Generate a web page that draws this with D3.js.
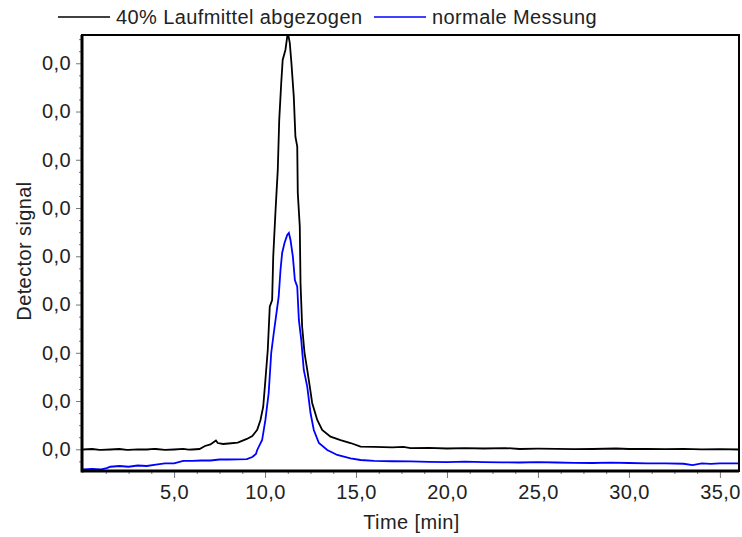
<!DOCTYPE html>
<html>
<head>
<meta charset="utf-8">
<script src="https://cdn.jsdelivr.net/npm/d3@7"></script>
<style>
  body { margin: 0; background: #fff; }
  svg { display: block; font-family: "Liberation Sans", Arial, sans-serif; }
</style>
</head>
<body>
<div id="chart"></div>
<script>
// Chromatogram: detector signal vs. time, two runs

var seriesNames = ["40% Laufmittel abgezogen", "normale Messung"];
var seriesColors = ["#000000", "#0000ff"];

// time [min] / signal for the "40% Laufmittel abgezogen" run
var blackTime = [0.0, 0.5, 0.9, 1.0, 1.5, 2.0, 2.4, 2.5, 3.0, 3.5, 3.9, 4.0, 4.5, 5.0, 5.5, 5.8, 6.0, 6.4, 6.7, 7.0, 7.3, 7.4, 7.7, 8.0, 8.5, 9.0, 9.3,
  9.57, 9.75, 9.90, 10.02, 10.15, 10.26, 10.39, 10.45, 10.57, 10.70, 10.78, 10.89, 10.97, 11.12, 11.22, 11.25,
  11.36, 11.45, 11.58, 11.67, 11.77, 11.80, 11.91, 11.95, 12.04, 12.17, 12.32, 12.46, 12.59, 12.87, 13.14, 13.60,
  14.15, 14.70, 15.25, 16.0, 17.0, 17.6, 18.0, 19.0, 20.0, 21.0, 22.0, 23.2, 24.0, 25.0, 26.0, 27.0, 28.0, 29.3,
  30.0, 31.0, 32.0, 33.0, 34.0, 35.0, 36.05];
var blackSignal = [-0.00002, 0.00003, -0.00006, -0.00007, -0.00002, 0.00003, -0.00006, -0.00007, 0.0, -0.00002, 0.00004, 0.00003, -0.00007, -0.00002, 0.00005, -0.00004, -0.00002, 0.00003, 0.00034, 0.0005, 0.00091, 0.00065, 0.00055, 0.0006, 0.0007, 0.00107, 0.00138,
  0.00201, 0.00304, 0.00441, 0.00718, 0.01029, 0.01478, 0.01547, 0.01996, 0.02449, 0.02895, 0.03413, 0.03796, 0.04034, 0.04138, 0.04276, 0.0432,
  0.04211, 0.04003, 0.03654, 0.03239, 0.03136, 0.02656, 0.02307, 0.01723, 0.0127, 0.00998, 0.00822, 0.00649, 0.0048, 0.00304, 0.00201, 0.00131,
  0.00096, 0.00065, 0.00027, 0.00024, 0.00019, 0.00025, 0.00013, 0.00014, 0.00008, 0.00012, 0.00008, 0.00013, 0.00003, 0.00006, 0.00005, 0.00001, 0.00003, 0.00008,
  0.00003, 0.00005, 0.00001, 0.00004, 0.0, 0.00002, -0.00002];

// time [min] / signal for the "normale Messung" run
var blueTime = [0.0, 0.5, 1.0, 1.3, 1.5, 2.0, 2.5, 3.0, 3.5, 4.0, 4.5, 5.0, 5.5, 6.0, 6.5, 7.0, 7.5, 8.0, 8.5, 9.0, 9.3, 9.5,
  9.57, 9.84, 10.02, 10.20, 10.34, 10.48, 10.63, 10.75, 10.85, 10.94, 11.07, 11.22, 11.31, 11.40, 11.53, 11.64, 11.77,
  11.86, 11.99, 12.13, 12.32, 12.50, 12.68, 12.96, 13.42, 13.97, 14.70, 15.25, 16.0, 17.0, 18.0, 19.0, 20.0, 21.0, 22.0,
  23.0, 24.0, 25.0, 26.0, 27.0, 28.0, 29.0, 30.0, 31.0, 32.0, 33.0, 33.5, 34.0, 34.5, 35.0, 35.5, 36.05];
var blueSignal = [-0.00209, -0.00204, -0.00209, -0.00195, -0.00181, -0.00173, -0.00181, -0.00168, -0.00173, -0.00158, -0.00147, -0.00147, -0.00121, -0.00121, -0.00116, -0.00116, -0.00106, -0.00106, -0.00104, -0.00101, -0.0008, -0.00049,
  -0.00007, 0.00096, 0.00304, 0.00583, 0.00998, 0.01205, 0.01413, 0.01581, 0.01858, 0.02034, 0.02138, 0.02221, 0.02242, 0.02169, 0.01996, 0.01754, 0.01685,
  0.0134, 0.01133, 0.00822, 0.00649, 0.00376, 0.002, 0.00065, -0.00007, -0.00059, -0.00093, -0.00111, -0.00121, -0.00124, -0.00126, -0.0013, -0.00132, -0.00128, -0.00132,
  -0.00135, -0.00137, -0.00134, -0.00137, -0.0014, -0.00142, -0.00138, -0.00142, -0.00145, -0.00147, -0.0015, -0.00163, -0.00147, -0.00152, -0.00145, -0.00147, -0.00147];

var yTicks = [0, 0.005, 0.01, 0.015, 0.02, 0.025, 0.03, 0.035, 0.04];
var xTicks = [5, 10, 15, 20, 25, 30, 35];

var width = 742, height = 537;
var margin = {top: 35, right: 3, bottom: 66, left: 82};

var svg = d3.select("#chart").append("svg")
  .attr("width", width).attr("height", height);

var x = d3.scaleLinear().domain([-0.06, 36.05]).range([margin.left, width - margin.right]);
var y = d3.scaleLinear().domain([-0.00225, 0.04293]).range([height - margin.bottom, margin.top]);

var de = d3.formatLocale({decimal: ",", thousands: ".", grouping: [3], currency: ["", " €"]});
var fmt = de.format(".1f");

var font = "20px 'Liberation Sans', Arial, sans-serif";
var spacing = "0.4px";

// minor ticks first, then majors on top
var xMinor = d3.range(1.25, 36.05, 1.25).filter(function(d) { return d % 5 !== 0; });
var yMinor = d3.range(-0.00125, 0.043, 0.00125).filter(function(d) { return Math.abs(d / 0.005 - Math.round(d / 0.005)) > 0.01; });

svg.append("g")
  .attr("transform", "translate(0," + (height - margin.bottom) + ")")
  .call(d3.axisBottom(x).tickValues(xMinor).tickSize(3).tickFormat(""))
  .call(function(g) { g.select(".domain").remove(); g.selectAll("line").attr("stroke", "#777"); });

svg.append("g")
  .attr("transform", "translate(" + margin.left + ",0)")
  .call(d3.axisLeft(y).tickValues(yMinor).tickSize(3).tickFormat(""))
  .call(function(g) { g.select(".domain").remove(); g.selectAll("line").attr("stroke", "#777"); });

svg.append("g")
  .attr("transform", "translate(0," + (height - margin.bottom) + ")")
  .call(d3.axisBottom(x).tickValues(xTicks).tickSize(7).tickPadding(7).tickFormat(fmt))
  .call(function(g) {
    g.select(".domain").remove();
    g.selectAll("line").attr("stroke", "#777");
    g.selectAll("text").style("font", font).style("letter-spacing", spacing).attr("fill", "#222");
  });

svg.append("g")
  .attr("transform", "translate(" + margin.left + ",0)")
  .call(d3.axisLeft(y).tickValues(yTicks).tickSize(6).tickPadding(5).tickFormat(fmt))
  .call(function(g) {
    g.select(".domain").remove();
    g.selectAll("line").attr("stroke", "#777");
    g.selectAll("text").style("font", font).style("letter-spacing", spacing).attr("fill", "#222");
  });

// clip lines to the plot frame
svg.append("clipPath").attr("id", "plotClip")
  .append("rect")
  .attr("x", margin.left).attr("y", margin.top)
  .attr("width", width - margin.left - margin.right)
  .attr("height", height - margin.top - margin.bottom);

var series = [
  {name: seriesNames[0], color: seriesColors[0], t: blackTime, v: blackSignal},
  {name: seriesNames[1], color: seriesColors[1], t: blueTime, v: blueSignal}
];

var line = d3.line()
  .x(function(d) { return x(d[0]); })
  .y(function(d) { return y(d[1]); });

svg.append("g").attr("clip-path", "url(#plotClip)")
  .selectAll("path").data(series.slice().reverse()).enter().append("path")
  .attr("d", function(s) { return line(d3.zip(s.t, s.v)); })
  .attr("fill", "none")
  .attr("stroke", function(s) { return s.color; })
  .attr("stroke-width", 1.8)
  .attr("stroke-linejoin", "miter");

// plot frame
svg.append("rect")
  .attr("x", margin.left).attr("y", margin.top)
  .attr("width", width - margin.left - margin.right)
  .attr("height", height - margin.top - margin.bottom)
  .attr("fill", "none").attr("stroke", "#000").attr("stroke-width", 2);

svg.append("line")
  .attr("x1", margin.left).attr("x2", margin.left)
  .attr("y1", margin.top).attr("y2", height - margin.bottom + 1.5)
  .attr("stroke", "#000").attr("stroke-width", 3);
svg.append("line")
  .attr("x1", margin.left).attr("x2", width - margin.right)
  .attr("y1", height - margin.bottom).attr("y2", height - margin.bottom)
  .attr("stroke", "#000").attr("stroke-width", 3);

// axis titles
svg.append("text")
  .attr("x", (margin.left + width - margin.right) / 2 + 1)
  .attr("y", 529)
  .attr("text-anchor", "middle")
  .style("font", font).style("letter-spacing", spacing).attr("fill", "#222")
  .text("Time [min]");

svg.append("text")
  .attr("transform", "translate(31,251) rotate(-90)")
  .attr("text-anchor", "middle")
  .style("font", font).style("letter-spacing", spacing).attr("fill", "#222")
  .text("Detector signal");

// legend
var legendX = [58, 374];
var legend = svg.selectAll(".legend").data(series).enter().append("g")
  .attr("class", "legend")
  .attr("transform", function(d, i) { return "translate(" + legendX[i] + ",17)"; });
legend.append("line")
  .attr("x1", 0).attr("x2", 52)
  .attr("stroke", function(d) { return d.color; })
  .attr("stroke-width", 1.6);
legend.append("text")
  .attr("x", 58).attr("y", 7)
  .style("font", font).style("letter-spacing", spacing).attr("fill", "#222")
  .text(function(d) { return d.name; });
</script>
</body>
</html>
